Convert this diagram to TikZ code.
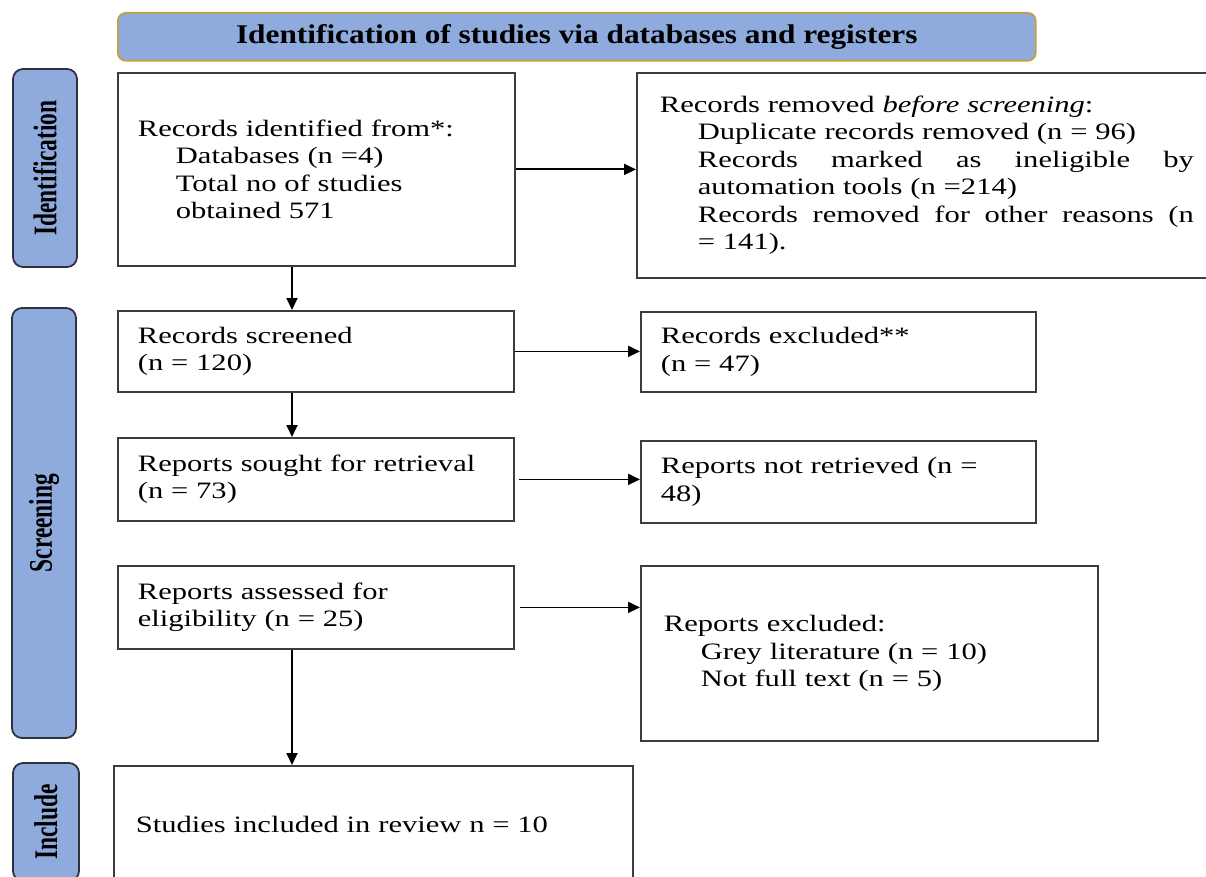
\documentclass[tikz,border=0pt]{standalone}
\usepackage{fontspec}
\setmainfont{Liberation Serif}[FakeStretch=1.3]
\newfontfamily\sidefont{Liberation Serif}[FakeStretch=0.71]
\newfontfamily\titlefont{Liberation Serif}[FakeStretch=1.16]
\usetikzlibrary{arrows.meta}
\definecolor{pblue}{HTML}{8FAADC}
\definecolor{pgold}{HTML}{C9A02E}
\definecolor{pdark}{HTML}{2E323C}
\definecolor{boxgray}{HTML}{3C3C3C}
\tikzset{
  pbox/.style={draw=boxgray, line width=1.8pt, anchor=north west, inner xsep=20pt, inner ysep=0pt,
    align=left, font=\fontsize{23.5}{27.5}\selectfont},
  sidebox/.style={draw=pdark, fill=pblue, line width=1.8pt, rounded corners=10pt, rotate=90,
    inner sep=0pt, font=\sidefont\bfseries\fontsize{33}{35}\selectfont},
  arr/.style={line width=1.8pt, -{Triangle[length=12pt,width=11pt]}}
}
\begin{document}
\begin{tikzpicture}[x=1pt,y=-1pt]
\useasboundingbox (0,0) rectangle (1206,877);
% title
\node[draw=pgold, fill=pblue, line width=1.6pt, rounded corners=8pt, anchor=north west,
  minimum width=918pt, minimum height=48pt, inner sep=0pt,
  font=\titlefont\bfseries\fontsize{27}{29}\selectfont] (title) at (117,12)
  {Identification of studies via databases and registers};
% side labels
\node[sidebox, minimum width=198pt, minimum height=64pt] (sid) at (45,168) {Identification};
\node[sidebox, minimum width=430pt, minimum height=64pt] (sscr) at (44,523) {Screening};
\node[sidebox, minimum width=118pt, minimum height=66pt] (sinc) at (46,822) {Include};
% boxes
\node[pbox, text width=357pt, minimum height=193pt] (b1) at (117,72)
  {Records identified from*:\\\hspace*{38pt}Databases (n =4)\\\hspace*{38pt}Total no of studies\\\hspace*{38pt}obtained 571};
\node[pbox, inner xsep=23pt, text width=534pt, minimum height=205pt] (rem) at (636,72)
  {Records removed \textit{before screening}:\\
   \hspace*{38pt}Duplicate records removed (n = 96)\\
   \hspace*{38pt}\hbox to 496pt{Records\hfill marked\hfill as\hfill ineligible\hfill by}\\
   \hspace*{38pt}automation tools (n =214)\\
   \hspace*{38pt}\hbox to 496pt{Records\hfill removed\hfill for\hfill other\hfill reasons\hfill (n}\\
   \hspace*{38pt}= 141).};
\node[pbox, text width=356pt, minimum height=81pt] (scr) at (117,310)
  {Records screened\\(n = 120)};
\node[pbox, text width=355pt, minimum height=80pt] (exc) at (640,311)
  {Records excluded**\\(n = 47)};
\node[pbox, text width=356pt, minimum height=83pt] (sought) at (117,437)
  {Reports sought for retrieval\\(n = 73)};
\node[pbox, text width=355pt, minimum height=82pt] (notret) at (640,440)
  {Reports not retrieved (n =\\48)};
\node[pbox, text width=356pt, minimum height=83pt] (ass) at (117,565)
  {Reports assessed for\\eligibility (n = 25)};
\node[pbox, inner xsep=23pt, text width=411pt, minimum height=175pt] (rexc) at (640,565)
  {Reports excluded:\\\hspace*{37pt}Grey literature (n = 10)\\\hspace*{37pt}Not full text (n = 5)};
\node[pbox, inner xsep=22pt, text width=475pt, minimum height=118pt] (inc) at (113,765)
  {Studies included in review n = 10};
% connectors
\coordinate (vx) at (292,0);
\draw[arr] (b1.east) -- (b1.east -| rem.west);
\draw[arr] (scr.east) -- (scr.east -| exc.west);
\draw[arr, shorten <=4pt] (sought.east) -- (sought.east -| notret.west);
\draw[arr, shorten <=5pt] (ass.east) -- (ass.east -| rexc.west);
\draw[arr] (b1.south -| vx) -- (scr.north -| vx);
\draw[arr] (scr.south -| vx) -- (sought.north -| vx);
\draw[arr] (ass.south -| vx) -- (inc.north -| vx);
\end{tikzpicture}
\end{document}
